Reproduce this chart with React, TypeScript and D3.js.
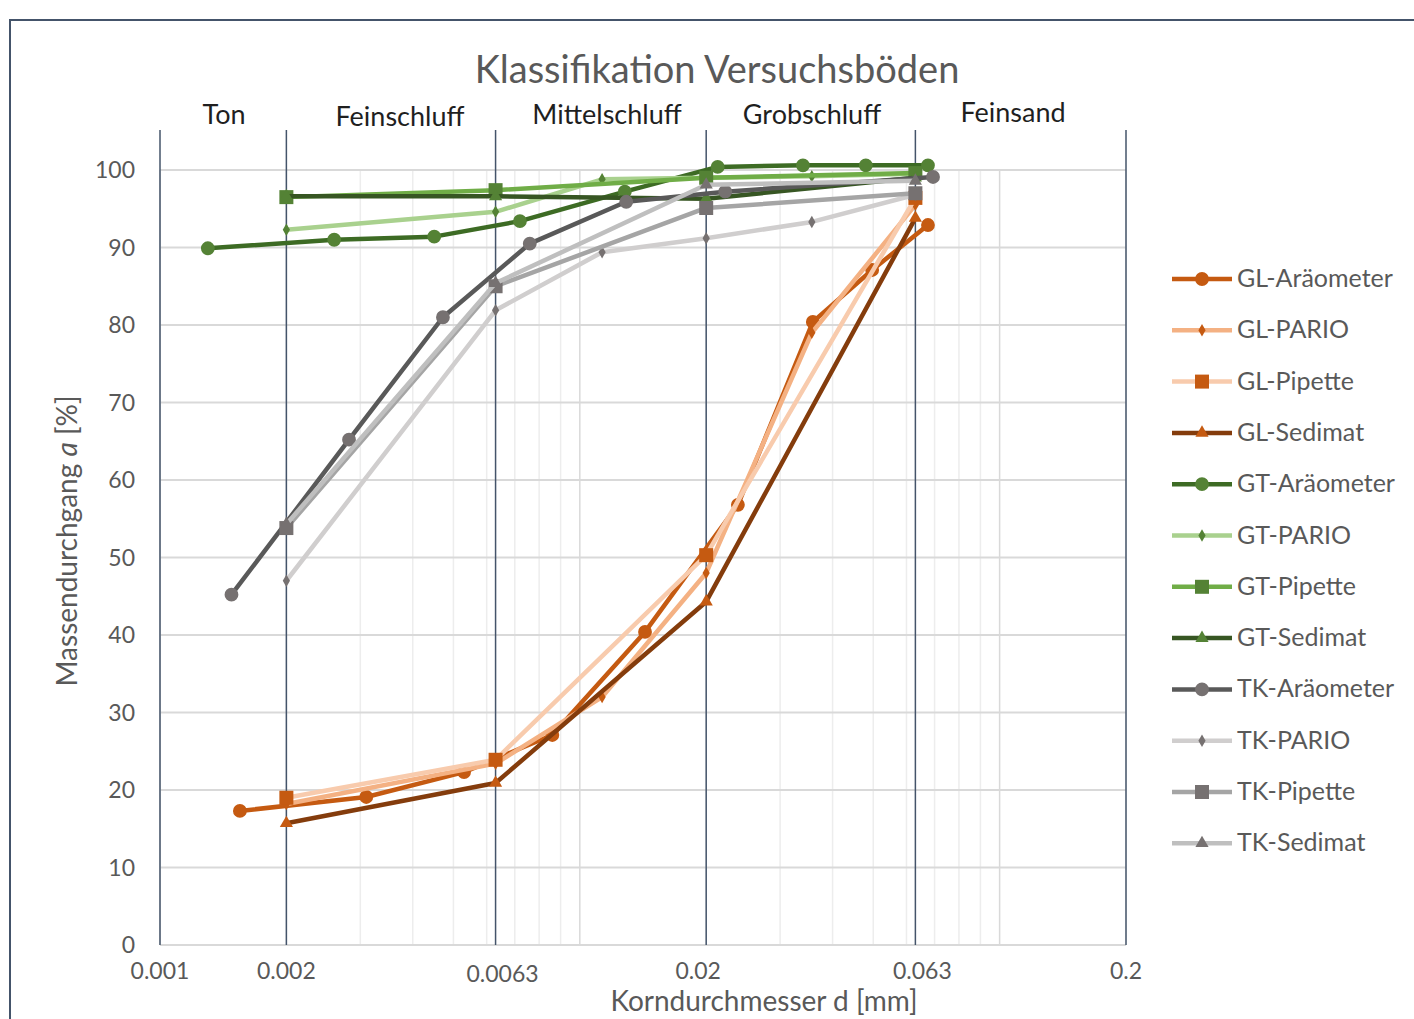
import React from "react";
import * as d3 from "d3";

// Siebgrenzen (dunkle Linien) und Beschriftungen
const boundaries = [0.001, 0.002, 0.0063, 0.02, 0.063, 0.2];
const boundaryLabels = ["0.001", "0.002", "0.0063", "0.02", "0.063", "0.2"];
const fractions = ["Ton", "Feinschluff", "Mittelschluff", "Grobschluff", "Feinsand"];
const yTicks = [0, 10, 20, 30, 40, 50, 60, 70, 80, 90, 100];

// Messreihen: [Korndurchmesser mm, Massendurchgang %]
const glAraeometer = [[0.00155, 17.3], [0.0031, 19.1], [0.0053, 22.3], [0.0086, 27.1], [0.0143, 40.4], [0.0238, 56.8], [0.0359, 80.4], [0.0497, 87.1], [0.0675, 92.9]];
const glPario = [[0.002, 18.2], [0.0063, 23.4], [0.0113, 32.0], [0.02, 48.0], [0.0357, 79.0], [0.063, 95.5]];
const glPipette = [[0.002, 19.0], [0.0063, 23.9], [0.02, 50.3], [0.063, 96.4]];
const glSedimat = [[0.002, 15.7], [0.0063, 20.9], [0.02, 44.3], [0.063, 93.8]];
const gtAraeometer = [[0.0013, 89.9], [0.0026, 91.0], [0.0045, 91.4], [0.0072, 93.4], [0.0128, 97.2], [0.0213, 100.4], [0.034, 100.6], [0.048, 100.6], [0.0675, 100.6]];
const gtPario = [[0.002, 92.3], [0.0063, 94.6], [0.0113, 98.8], [0.02, 99.0], [0.0357, 99.2], [0.063, 99.5]];
const gtPipette = [[0.002, 96.5], [0.0063, 97.4], [0.02, 99.0], [0.063, 99.6]];
const gtSedimat = [[0.002, 96.6], [0.0063, 96.6], [0.02, 96.3], [0.063, 99.0]];
const tkAraeometer = [[0.00148, 45.2], [0.00282, 65.2], [0.00472, 81.0], [0.0076, 90.5], [0.0129, 95.9], [0.0222, 97.2], [0.0694, 99.1]];
const tkPario = [[0.002, 47.0], [0.0063, 81.9], [0.0113, 89.4], [0.02, 91.2], [0.0357, 93.3], [0.063, 96.8]];
const tkPipette = [[0.002, 53.8], [0.0063, 85.0], [0.02, 95.1], [0.063, 97.0]];
const tkSedimat = [[0.002, 54.3], [0.0063, 85.4], [0.02, 98.1], [0.063, 98.6]];

const series = [
  { name: "GL-Aräometer", data: glAraeometer, line: "#c55a11", mark: "#c55a11", shape: "circle" },
  { name: "GL-PARIO", data: glPario, line: "#f4b183", mark: "#c55a11", shape: "diamond" },
  { name: "GL-Pipette", data: glPipette, line: "#f8cbad", mark: "#c55a11", shape: "square" },
  { name: "GL-Sedimat", data: glSedimat, line: "#843c0c", mark: "#c55a11", shape: "triangle" },
  { name: "GT-Aräometer", data: gtAraeometer, line: "#3d6b24", mark: "#548235", shape: "circle" },
  { name: "GT-PARIO", data: gtPario, line: "#a9d18e", mark: "#548235", shape: "diamond" },
  { name: "GT-Pipette", data: gtPipette, line: "#70ad47", mark: "#548235", shape: "square" },
  { name: "GT-Sedimat", data: gtSedimat, line: "#375623", mark: "#548235", shape: "triangle" },
  { name: "TK-Aräometer", data: tkAraeometer, line: "#595959", mark: "#767171", shape: "circle" },
  { name: "TK-PARIO", data: tkPario, line: "#d0cece", mark: "#767171", shape: "diamond" },
  { name: "TK-Pipette", data: tkPipette, line: "#a5a5a5", mark: "#767171", shape: "square" },
  { name: "TK-Sedimat", data: tkSedimat, line: "#bfbfbf", mark: "#767171", shape: "triangle" },
];

const W = 1414;
const H = 1019;
const left = 160, right = 1126, top = 170, bottom = 945;
const font = "Lato, 'Noto Sans', sans-serif";

const x = d3.scaleLog().domain([0.001, 0.2]).range([left, right]);
const y = d3.scaleLinear().domain([0, 100]).range([bottom, top]);

const symbols: Record<string, [d3.SymbolType, number]> = {
  circle: [d3.symbolCircle, 150],
  diamond: [d3.symbolDiamond, 45],
  square: [d3.symbolSquare, 196],
  triangle: [d3.symbolTriangle, 75],
};
const symbolPath = (shape: string) => d3.symbol().type(symbols[shape][0]).size(symbols[shape][1])() as string;

const line = d3.line<number[]>().x(d => x(d[0])).y(d => y(d[1]));

// Beschriftungspositionen der Bodenarten
const fractionX = [224, 400, 607, 812, 1013];
const fractionY = [124, 126, 124, 124, 122];

export default function App() {
  const minorTicks = x.ticks();
  return (
    <svg width={W} height={H} style={{ position: "absolute", left: 0, top: 0, background: "#fff" }} fontFamily={font}>
      <rect x={0} y={0} width={W} height={H} fill="#fff" />
      <rect x={10} y={20} width={W + 20} height={H + 20} fill="none" stroke="#44546a" strokeWidth={2} />

      <text x={717} y={83} textAnchor="middle" fontSize={38} fill="#595959">Klassifikation Versuchsböden</text>

      {/* Nebengitter */}
      {minorTicks.map(t => (
        <line key={"m" + t} x1={x(t)} x2={x(t)} y1={top} y2={bottom}
          stroke={Math.abs(Math.log10(t) - Math.round(Math.log10(t))) < 1e-6 ? "#d9d9d9" : "#ededed"} strokeWidth={1.5} />
      ))}
      {yTicks.map(t => (
        <line key={"h" + t} x1={left} x2={right} y1={y(t)} y2={y(t)} stroke="#d9d9d9" strokeWidth={2} />
      ))}
      {/* Grenzlinien */}
      {boundaries.map(b => (
        <line key={"b" + b} x1={x(b)} x2={x(b)} y1={130} y2={bottom} stroke="#44546a" strokeWidth={1.5} />
      ))}

      {fractions.map((f, i) => (
        <text key={f} x={fractionX[i]} y={fractionY[i]} textAnchor="middle" fontSize={27} fill="#1f1f1f">{f}</text>
      ))}

      {yTicks.map(t => (
        <text key={"yl" + t} x={135} y={y(t) + 8} textAnchor="end" fontSize={23} fill="#595959">{t}</text>
      ))}
      {boundaries.map((b, i) => (
        <text key={"xl" + b} x={x(b) + (i === 2 ? 7 : i === 3 ? -8 : i === 4 ? 7 : 0)} y={i === 2 ? 982 : 979}
          textAnchor="middle" fontSize={23} fill="#595959">{boundaryLabels[i]}</text>
      ))}
      <text x={764} y={1011} textAnchor="middle" fontSize={28} fill="#595959">Korndurchmesser d [mm]</text>
      <text transform="translate(77,541) rotate(-90)" textAnchor="middle" fontSize={28} fill="#595959">
        Massendurchgang <tspan fontStyle="italic">a</tspan> [%]
      </text>

      {/* Reihen */}
      {series.map(s => (
        <g key={s.name}>
          <path d={line(s.data as number[][]) as string} fill="none" stroke={s.line} strokeWidth={4.5} strokeLinejoin="round" />
          {s.data.map((d, j) => (
            <path key={j} d={symbolPath(s.shape)} transform={`translate(${x(d[0])},${y(d[1])})`} fill={s.mark} />
          ))}
        </g>
      ))}

      {/* Legende */}
      {series.map((s, i) => {
        const ly = 279 + i * 51.3;
        return (
          <g key={"lg" + s.name} transform={`translate(0,${ly})`}>
            <line x1={1172} x2={1232} y1={0} y2={0} stroke={s.line} strokeWidth={4.5} />
            <path d={symbolPath(s.shape)} transform="translate(1202,0)" fill={s.mark} />
            <text x={1237} y={8} fontSize={25} fill="#595959">{s.name}</text>
          </g>
        );
      })}
    </svg>
  );
}
